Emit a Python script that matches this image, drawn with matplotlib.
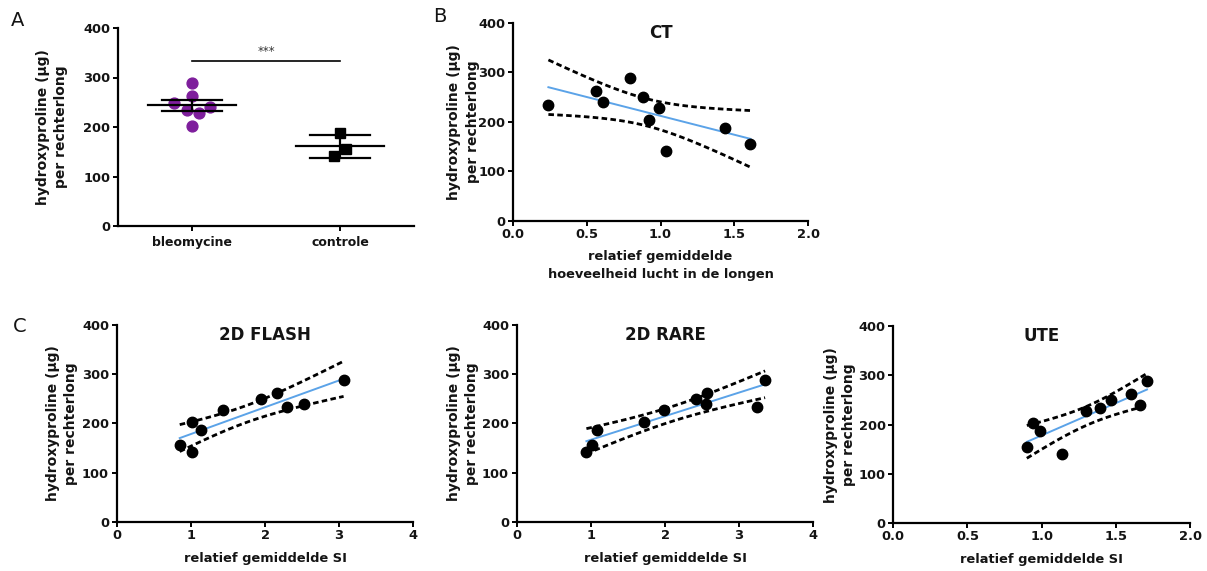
import numpy as np
import matplotlib
matplotlib.use("Agg")
import matplotlib.pyplot as plt

plt.rcParams['font.family'] = ['DejaVu Sans']

# ---------------- data ----------------
groups = ["bleomycine", "controle"]
bleo_values = [289, 262, 249, 234, 228, 240, 203]
bleo_jitter = [0.0, 0.0, -0.12, -0.036, 0.045, 0.124, 0.0]
ctrl_values = [187, 155, 141]
ctrl_jitter = [0.0, 0.04, -0.04]
group_err = [11.5, 23.0]
signif_text = "***"
signif_level = 333

ct_x = [0.24, 0.56, 0.61, 0.79, 0.88, 0.92, 0.99, 1.04, 1.44, 1.61]
ct_y = [234, 262, 240, 289, 249, 203, 228, 141, 187, 155]

flash_x = [0.85, 1.01, 1.02, 1.14, 1.43, 1.95, 2.16, 2.30, 2.52, 3.06]
flash_y = [155, 203, 141, 187, 228, 249, 262, 234, 240, 289]

rare_x = [0.94, 1.01, 1.08, 1.72, 1.99, 2.42, 2.57, 2.55, 3.24, 3.35]
rare_y = [141, 155, 187, 203, 228, 249, 262, 240, 234, 289]

ute_x = [0.90, 0.94, 0.99, 1.14, 1.30, 1.39, 1.47, 1.60, 1.66, 1.71]
ute_y = [155, 203, 187, 141, 228, 234, 249, 262, 240, 289]

y_ticks = [0, 100, 200, 300, 400]
ylabel = "hydroxyproline (µg)\nper rechterlong"

# ---------------- style ----------------
TXT = '#141414'
BLUE = '#5BA3E8'
PURPLE = '#7E1E9C'
T95 = 2.306  # t(0.975, df=8)
DASH = (0, (2.0, 1.2))

fig = plt.figure(figsize=(12.07, 5.71), dpi=100)
W, H = 1207, 571


def make_ax(left, right, top, bottom):
    return fig.add_axes([left / W, 1 - bottom / H, (right - left) / W, (bottom - top) / H])


def style(ax, xlim, xticks, xticklabels=None):
    ax.set_ylim(0, 400)
    ax.set_xlim(*xlim)
    ax.set_yticks(y_ticks)
    ax.set_xticks(xticks)
    if xticklabels is not None:
        ax.set_xticklabels(xticklabels)
    for s in ['top', 'right']:
        ax.spines[s].set_visible(False)
    for s in ['left', 'bottom']:
        ax.spines[s].set_linewidth(1.6)
        ax.spines[s].set_color('black')
    ax.tick_params(direction='out', length=3.5, width=1.4, colors='black',
                   labelcolor=TXT, labelsize=9.4, pad=2)
    ax.tick_params(axis='x', pad=1.5)
    for lab in ax.get_xticklabels() + ax.get_yticklabels():
        lab.set_fontweight('bold')
    ax.set_ylabel(ylabel, fontsize=10, fontweight='bold', color=TXT,
                  linespacing=1.4, va='center')


def regression(ax, x, y, title, xlabel, ylab_off, xlab_y):
    x = np.asarray(x, float)
    y = np.asarray(y, float)
    n = len(x)
    b, a = np.polyfit(x, y, 1)
    xs = np.linspace(x.min(), x.max(), 100)
    fit = a + b * xs
    resid = y - (a + b * x)
    s = np.sqrt(np.sum(resid ** 2) / (n - 2))
    se = s * np.sqrt(1 / n + (xs - x.mean()) ** 2 / np.sum((x - x.mean()) ** 2))
    ax.plot(xs, fit + T95 * se, color='black', lw=2.0, ls=DASH, zorder=2)
    ax.plot(xs, fit - T95 * se, color='black', lw=2.0, ls=DASH, zorder=2)
    ax.plot(xs, fit, color=BLUE, lw=1.4, zorder=3)
    ax.plot(x, y, 'o', color='black', ms=7.5, zorder=4, clip_on=False)
    ax.text(0.5, 0.95, title, transform=ax.transAxes, ha='center', va='center',
            fontsize=12, fontweight='bold', color=TXT)
    ax.set_xlabel(xlabel, fontsize=9.4, fontweight='bold', color=TXT, linespacing=1.5)
    ax.xaxis.set_label_coords(0.5, xlab_y)
    ax.yaxis.set_label_coords(ylab_off, 0.5)


# ---------------- Panel A ----------------
axA = make_ax(118, 414, 28, 226)
style(axA, (-0.5, 1.5), [0, 1], groups)
for lab in axA.get_xticklabels():
    lab.set_fontsize(9.0)
axA.tick_params(axis='x', pad=4)
axA.yaxis.set_label_coords(-0.222, 0.5)

axA.plot(np.array(bleo_jitter), bleo_values, 'o', color=PURPLE, ms=7.8, zorder=3)
axA.plot(1 + np.array(ctrl_jitter), ctrl_values, 's', color='black', ms=7, zorder=3)

for i, vals in enumerate([bleo_values, ctrl_values]):
    m = np.mean(vals)
    e = group_err[i]
    axA.plot([i - 0.3, i + 0.3], [m, m], color='black', lw=1.6, zorder=4)
    axA.plot([i - 0.2, i + 0.2], [m + e, m + e], color='black', lw=1.6, zorder=4)
    axA.plot([i - 0.2, i + 0.2], [m - e, m - e], color='black', lw=1.6, zorder=4)
    axA.plot([i, i], [m - e, m + e], color='black', lw=1.6, zorder=4)

axA.plot([0, 1], [signif_level, signif_level], color='black', lw=1.2)
axA.text(0.5, signif_level + 6, signif_text, ha='center', va='bottom',
         fontsize=8.5, color='#333333')

# ---------------- Panel B ----------------
axB = make_ax(513, 808, 22.7, 220.7)
style(axB, (0, 2.0), [0.0, 0.5, 1.0, 1.5, 2.0], ['0.0', '0.5', '1.0', '1.5', '2.0'])
regression(axB, ct_x, ct_y, "CT", "relatief gemiddelde\nhoeveelheid lucht in de longen",
           -0.168, -0.15)

# ---------------- Panel C ----------------
axC1 = make_ax(116.7, 413.3, 325, 521.7)
style(axC1, (0, 4), [0, 1, 2, 3, 4])
regression(axC1, flash_x, flash_y, "2D FLASH", "relatief gemiddelde SI", -0.185, -0.155)

axC2 = make_ax(516.7, 813.3, 325, 521.7)
style(axC2, (0, 4), [0, 1, 2, 3, 4])
regression(axC2, rare_x, rare_y, "2D RARE", "relatief gemiddelde SI", -0.182, -0.155)

axC3 = make_ax(893.3, 1190, 326, 523.3)
style(axC3, (0, 2.0), [0.0, 0.5, 1.0, 1.5, 2.0], ['0.0', '0.5', '1.0', '1.5', '2.0'])
regression(axC3, ute_x, ute_y, "UTE", "relatief gemiddelde SI", -0.179, -0.15)

# panel letters
fig.text(18 / W, 1 - 21 / H, "A", fontsize=14, ha='center', va='center', color=TXT)
fig.text(440 / W, 1 - 17 / H, "B", fontsize=14, ha='center', va='center', color=TXT)
fig.text(20 / W, 1 - 327 / H, "C", fontsize=14, ha='center', va='center', color=TXT)

fig.savefig("out.png", dpi=100, facecolor='white')
